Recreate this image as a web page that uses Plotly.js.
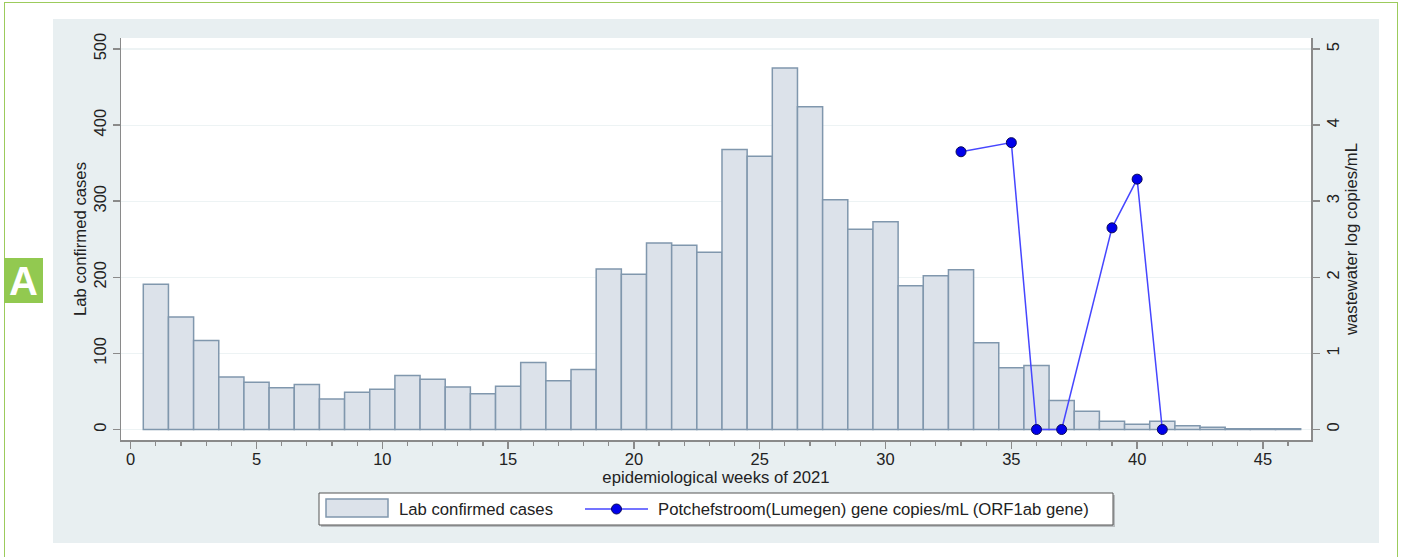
<!DOCTYPE html>
<html>
<head>
<meta charset="utf-8">
<script src="https://cdn.plot.ly/plotly-3.0.1.min.js"></script>
<style>
    body { margin:0; background:#ffffff; width:1405px; height:557px; overflow:hidden; position:relative; font-family:"Liberation Sans", Arial, sans-serif; }
    #frame { position:absolute; left:4px; top:2px; width:1394px; height:600px; border:1.5px solid #9ccb5c; box-sizing:border-box; }
    #badge { position:absolute; left:4px; top:258px; width:39px; height:45px; background:#92c950; color:#ffffff;
             font-weight:bold; font-size:40px; line-height:46px; text-align:center; }
    #chart { position:absolute; left:53px; top:19px; width:1326px; height:524px; }
</style>
</head>
<body>
<div id="frame"></div>
<div id="badge">A</div>
<div id="chart"></div>
<script>
// epidemiological weeks of 2021
let weeks = [];
for (let i = 1; i <= 46; i++) weeks.push(i);

// lab confirmed cases per week
let cases = [191,148,117,69,62,55,59,40,49,53,71,66,56,47,57,88,64,79,
             211,204,245,242,233,368,359,475,424,302,263,273,189,202,210,114,81,84,
             38,24,11,7,11,5,3,1,1,1];

// wastewater samples (log copies/mL)
let wwWeeks = [33,35,36,37,39,40,41];
let wwValues = [3.65,3.77,0,0,2.65,3.29,0];

let seriesNames = ['Lab confirmed cases','Potchefstroom(Lumegen) gene copies/mL (ORF1ab gene)'];
let titles = {x:'epidemiological weeks of 2021', y:'Lab confirmed cases', y2:'wastewater log copies/mL'};

const FONT = '"Liberation Sans", Arial, sans-serif';
const BAR_FILL = 'rgb(220,226,234)';
const BAR_LINE = 'rgb(128,151,173)';
const AXIS_COL = '#8a8a8a';

// page pixel -> paper coords (plot area is 121..1311 x 38..440 on the page)
let px = x => (x - 121) / 1190;
let py = y => (440 - y) / 402;

let dataDraw = [
    {
        x: weeks,
        y: cases,
        type: 'bar',
        width: 1,
        name: seriesNames[0],
        marker: {color: BAR_FILL, line: {color: BAR_LINE, width: 1.5}},
        showlegend: false,
        hoverinfo: 'x+y'
    },
    {
        x: wwWeeks,
        y: wwValues,
        yaxis: 'y2',
        type: 'scatter',
        mode: 'lines+markers',
        name: seriesNames[1],
        line: {color: 'rgb(70,70,255)', width: 1.5},
        marker: {color: 'rgb(0,0,235)', size: 10, line: {color: 'rgb(10,10,90)', width: 1}},
        showlegend: false
    }
];

let tickFont = {family: FONT, size: 16.5, color: '#222'};
let titleFont = {family: FONT, size: 16.7, color: '#222'};

let layout = {
    width: 1326,
    height: 524,
    margin: {l: 68, r: 68, t: 19, b: 103},
    paper_bgcolor: '#e8eff1',
    plot_bgcolor: '#ffffff',
    bargap: 0,
    showlegend: false,
    font: {family: FONT, color: '#222'},
    xaxis: {
        range: [-0.386, 46.91],
        tick0: 0, dtick: 5,
        ticks: 'outside', ticklen: 7, tickwidth: 1.5, tickcolor: AXIS_COL,
        minor: {dtick: 1, tick0: 0, ticks: 'outside', ticklen: 4, tickwidth: 1.2, tickcolor: AXIS_COL, showgrid: false},
        showline: true, linecolor: AXIS_COL, linewidth: 1.5,
        showgrid: false, zeroline: false,
        tickfont: tickFont,
        ticklabelstandoff: -3,
        title: {text: titles.x, font: titleFont, standoff: 0}
    },
    yaxis: {
        range: [-13.8, 514.5],
        tick0: 0, dtick: 100,
        ticks: 'outside', ticklen: 7, tickwidth: 1.5, tickcolor: AXIS_COL,
        tickangle: -90,
        showline: true, linecolor: AXIS_COL, linewidth: 1.5,
        showgrid: true, gridcolor: '#edf3f4', gridwidth: 1.2,
        zeroline: false,
        tickfont: tickFont,
        title: {text: titles.y, font: titleFont, standoff: 0}
    },
    yaxis2: {
        overlaying: 'y',
        side: 'right',
        range: [-0.138, 5.145],
        tick0: 0, dtick: 1,
        ticks: 'outside', ticklen: 7, tickwidth: 1.5, tickcolor: AXIS_COL,
        tickangle: -90,
        showline: true, linecolor: AXIS_COL, linewidth: 1.5,
        showgrid: false, zeroline: false,
        tickfont: tickFont,
        title: {text: titles.y2, font: titleFont, standoff: 2}
    },
    shapes: [
        // legend box
        {type: 'rect', xref: 'paper', yref: 'paper', x0: px(321), x1: px(1115), y0: py(527), y1: py(495),
         fillcolor: '#b8bcbf', line: {width: 0}},
        {type: 'rect', xref: 'paper', yref: 'paper', x0: px(319), x1: px(1113), y0: py(525), y1: py(493),
         fillcolor: '#ffffff', line: {color: '#555555', width: 1}},
        // bar key
        {type: 'rect', xref: 'paper', yref: 'paper', x0: px(326), x1: px(388), y0: py(517), y1: py(499),
         fillcolor: BAR_FILL, line: {color: BAR_LINE, width: 1.5}},
        // line key
        {type: 'line', xref: 'paper', yref: 'paper', x0: px(585), x1: px(648), y0: py(509), y1: py(509),
         line: {color: 'rgb(70,70,255)', width: 1.5}},
        {type: 'circle', xref: 'paper', yref: 'paper', x0: px(611.5), x1: px(621.5), y0: py(514), y1: py(504),
         fillcolor: 'rgb(0,0,235)', line: {color: 'rgb(10,10,90)', width: 1}}
    ],
    annotations: [
        {xref: 'paper', yref: 'paper', x: px(397), y: py(509), xanchor: 'left', yanchor: 'middle',
         text: seriesNames[0], showarrow: false, font: titleFont},
        {xref: 'paper', yref: 'paper', x: px(656), y: py(509), xanchor: 'left', yanchor: 'middle',
         text: seriesNames[1], showarrow: false, font: titleFont}
    ]
};

Plotly.newPlot('chart', dataDraw, layout, {displayModeBar: false, staticPlot: true});
</script>
</body>
</html>
